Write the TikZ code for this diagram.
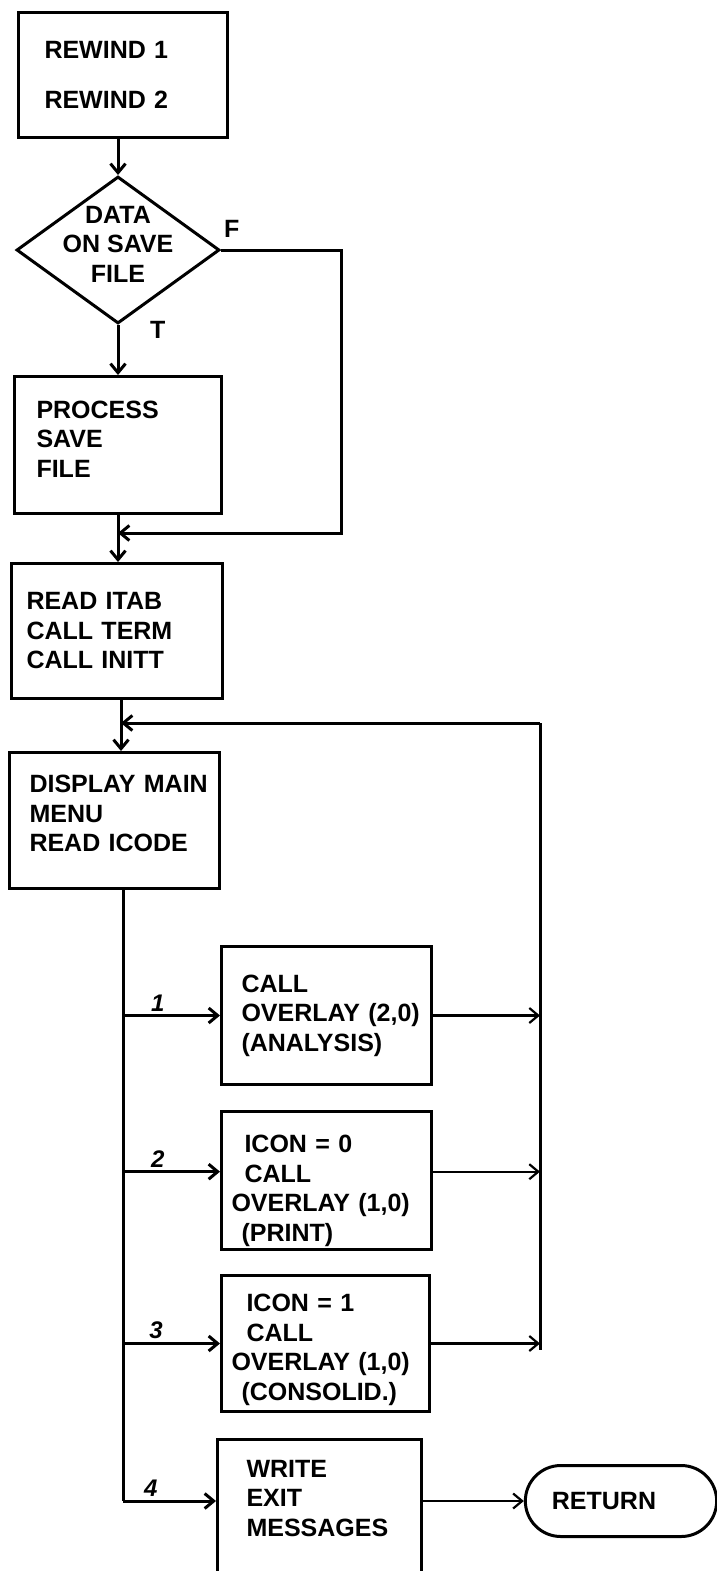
\documentclass[tikz,border=0pt]{standalone}
\usepackage{fontspec}
\setmainfont{Liberation Sans}
\usetikzlibrary{arrows.meta, shapes.geometric, shapes.misc}

\begin{document}
\begin{tikzpicture}[
    x=1pt, y=-1pt,
    >={Straight Barb[length=9pt, width=15pt]},
    every node/.style={font=\fontsize{25}{29.5}\selectfont\bfseries},
    blk/.style={draw, line width=3pt, rectangle, anchor=north west, align=left},
    decbox/.style={draw, line width=3pt, diamond},
    termbox/.style={draw, line width=3pt, rounded rectangle},
    conn/.style={line width=3pt},
    outconn/.style={line width=2.2pt},
    numlbl/.style={font=\fontsize{24}{24}\selectfont\bfseries\itshape, inner sep=3pt}
  ]
  \clip (0,0) rectangle (717,1571);

  \node[blk, minimum width=209pt, minimum height=125pt, inner xsep=26pt, text width=157pt]
    (rew) at (17,11) {REWIND~1\\[20pt]REWIND~2};
  \node[decbox, minimum width=203pt, minimum height=147pt] (dec) at (118,250) {};
  \node[align=center, inner sep=0pt] (dectext) at ([yshift=6pt]dec.center) {DATA\\ON~SAVE\\FILE};
  \node[blk, minimum width=207pt, minimum height=137pt, inner xsep=22pt, text width=163pt, text depth=71pt]
    (proc) at (13,375) {PROCESS\\SAVE\\FILE};
  \node[blk, minimum width=211pt, minimum height=135pt, inner xsep=15pt, text width=181pt]
    (read) at (10,562) {READ~ITAB\\CALL~TERM\\CALL~INITT};
  \node[blk, minimum width=210pt, minimum height=136pt, inner xsep=20pt, text width=170pt, text depth=73pt]
    (disp) at (8,751) {DISPLAY~MAIN\\MENU\\READ~ICODE};
  \node[blk, minimum width=210pt, minimum height=138pt, inner xsep=20pt, text width=170pt]
    (ana) at (220,945) {CALL\\OVERLAY~(2,0)\\(ANALYSIS)};
  \node[blk, minimum width=210pt, minimum height=135pt, inner xsep=10pt, text width=190pt, text height=38pt]
    (prt) at (220,1110) {\hspace*{13pt}ICON~=~0\\\hspace*{13pt}CALL\\OVERLAY~(1,0)\\\hspace*{10pt}(PRINT)};
  \node[blk, minimum width=208pt, minimum height=136pt, inner xsep=10pt, text width=188pt, text height=30pt]
    (con) at (220,1274) {\hspace*{15pt}ICON~=~1\\\hspace*{15pt}CALL\\OVERLAY~(1,0)\\\hspace*{10pt}(CONSOLID.)};
  \node[blk, minimum width=204pt, minimum height=137pt, inner xsep=29pt, text width=146pt, text depth=79pt]
    (wrt) at (216,1438) {WRITE\\EXIT\\MESSAGES};
  \node[termbox, minimum width=198pt, minimum height=71pt] (ret) at (621,1501) {RETURN\hspace*{34pt}};

  \path (proc.south) ++(0,18) coordinate (fjoin);
  \path ([yshift=9pt]prt.west) coordinate (prtin);
  \path ([yshift=9pt]prt.east) coordinate (prtout);
  \coordinate (ljoin) at (121,723);
  \coordinate (ltop) at (540,723);
  \coordinate (lbot) at (540,1350);
  \coordinate (tbot) at (123,1501);

  \draw[conn, ->] (dec.north |- rew.south) -- (dec.north);
  \draw[conn, ->] (dec.south) -- (proc.north -| dec.south);
  \node[anchor=north west, inner sep=0pt] (tlbl) at ([xshift=32pt, yshift=4pt]dec.south) {T};
  \draw[conn, ->] (dec.east) -- ++(120,0) |- (fjoin);
  \node[anchor=south west, inner sep=0pt] (flbl) at ([xshift=3pt, yshift=12pt]dec.east) {F};
  \draw[conn, ->] (proc.south -| dec.south) -- (read.north -| dec.south);
  \draw[conn, ->] (read.south -| ljoin) -- (disp.north -| ljoin);
  \draw[conn, ->] (ltop) -- (ljoin);
  \draw[conn] (ltop) -- (lbot);
  \draw[conn] (disp.south -| tbot) -- (tbot);

  \draw[conn, ->] (ana.west -| tbot) -- (ana.west) node[numlbl, pos=0.36, above] (n1) {1};
  \draw[conn, ->] (prtin -| tbot) -- (prtin) node[numlbl, pos=0.36, above] (n2) {2};
  \draw[conn, ->] (con.west -| tbot) -- (con.west) node[numlbl, pos=0.34, above] (n3) {3};
  \draw[conn, ->] (tbot) -- (tbot -| wrt.west) node[numlbl, pos=0.3, above] (n4) {4};

  \draw[outconn, ->] (ana.east) -- (ana.east -| lbot);
  \draw[outconn, ->] (prtout) -- (prtout -| lbot);
  \draw[outconn, ->] (con.east) -- (con.east -| lbot);
  \draw[outconn, ->] (wrt.east |- ret.west) -- (ret.west);
\end{tikzpicture}
\end{document}
